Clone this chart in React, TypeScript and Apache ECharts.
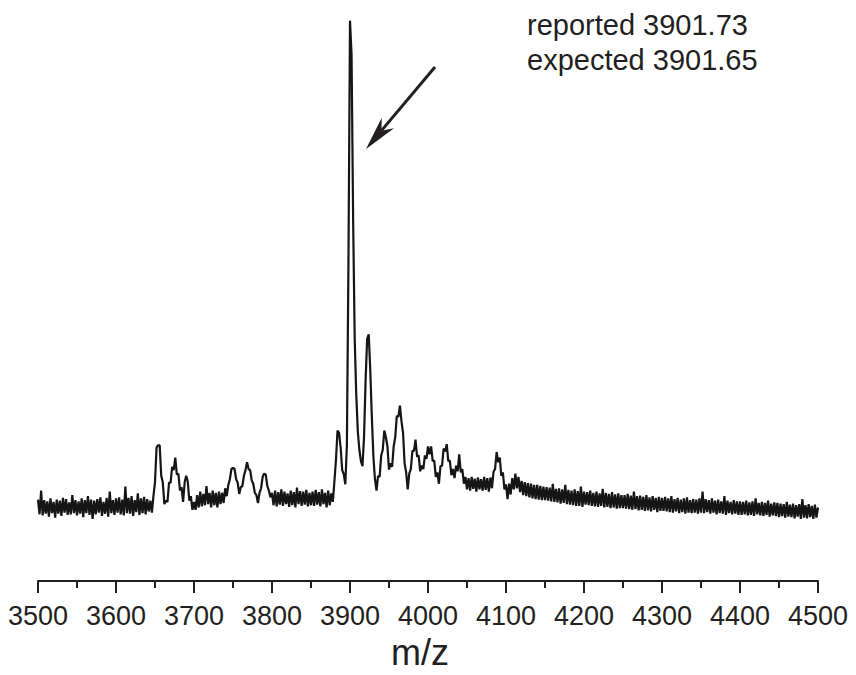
import React, { useEffect, useRef } from "react";
import * as echarts from "echarts";

// m/z grid of the spectrum (start and step) and the intensities (arbitrary units)
const MZ_START = 3500;
const MZ_STEP = 2;

const intensity: number[] = [
  // 3500-3548
  144, 118, 160, 116, 143, 119, 141, 114, 146, 120, 140, 112, 144, 119, 142, 115, 147, 121, 145, 117, 139, 118, 152, 120, 143,
  // 3550-3598
  116, 141, 119, 146, 113, 143, 120, 150, 117, 144, 110, 142, 118, 145, 121, 148, 115, 140, 119, 147, 114, 158, 120, 143, 117,
  // 3600-3648
  146, 121, 148, 118, 144, 116, 167, 120, 147, 119, 150, 115, 143, 122, 155, 117, 146, 120, 149, 118, 145, 123, 142, 121, 150,
  // 3650-3698
  175, 236, 240, 240, 186, 174, 136, 142, 140, 174, 174, 202, 196, 218, 188, 190, 160, 166, 140, 174, 186, 176, 142, 150, 126,
  // 3700-3748
  140, 126, 152, 130, 158, 132, 154, 134, 168, 136, 156, 130, 160, 134, 156, 130, 158, 136, 156, 138, 164, 150, 170, 180, 198,
  // 3750-3798
  200, 198, 180, 174, 154, 166, 168, 186, 196, 210, 198, 196, 178, 172, 156, 152, 138, 156, 164, 184, 190, 188, 168, 160, 148,
  // 3800-3848
  156, 134, 160, 132, 157, 135, 162, 133, 158, 136, 155, 131, 160, 134, 157, 130, 165, 136, 159, 133, 158, 135, 161, 132, 156,
  // 3850-3898
  134, 158, 133, 161, 135, 157, 132, 162, 136, 156, 130, 160, 134, 155, 140, 176, 214, 266, 262, 236, 196, 189, 171, 240, 560,
  // 3900-3948
  990, 930, 640, 430, 330, 265, 232, 212, 203, 255, 355, 428, 436, 372, 290, 220, 180, 160, 186, 184, 222, 232, 266, 254, 238,
  // 3950-3998
  197, 208, 202, 238, 254, 292, 290, 310, 282, 262, 208, 192, 162, 190, 198, 230, 230, 250, 220, 222, 194, 204, 198, 222, 216,
  // 4000-4048
  238, 224, 238, 212, 213, 184, 192, 172, 203, 204, 234, 229, 242, 212, 213, 187, 198, 182, 204, 194, 224, 192, 198, 172, 184,
  // 4050-4098
  162, 182, 160, 184, 163, 181, 158, 183, 162, 180, 160, 184, 161, 182, 158, 183, 164, 193, 198, 228, 210, 218, 186, 192, 162,
  // 4100-4148
  171, 145, 172, 153, 182, 162, 190, 164, 184, 157, 177, 152, 175, 150, 173, 148, 172, 146, 170, 145, 170, 144, 168, 143, 167,
  // 4150-4198
  143, 166, 142, 165, 141, 172, 140, 163, 139, 164, 137, 162, 138, 170, 136, 161, 135, 160, 134, 162, 133, 159, 133, 167, 131,
  // 4200-4248
  158, 135, 157, 134, 160, 133, 156, 132, 158, 131, 155, 133, 163, 130, 156, 131, 154, 129, 157, 130, 153, 128, 155, 129, 152,
  // 4250-4298
  129, 152, 128, 154, 127, 151, 126, 158, 127, 150, 125, 151, 126, 149, 124, 152, 125, 148, 123, 150, 126, 147, 122, 149, 124,
  // 4300-4348
  147, 124, 149, 123, 146, 122, 150, 121, 145, 123, 147, 120, 144, 122, 146, 119, 148, 121, 143, 120, 145, 121, 144, 119, 146,
  // 4350-4398
  121, 158, 120, 145, 122, 143, 119, 146, 121, 142, 118, 144, 120, 141, 119, 150, 117, 142, 120, 140, 118, 143, 119, 141, 117,
  // 4400-4448
  141, 117, 140, 118, 142, 116, 139, 117, 141, 115, 146, 118, 138, 116, 140, 115, 138, 117, 142, 114, 137, 116, 139, 115, 138,
  // 4450-4498
  113, 137, 115, 136, 112, 140, 114, 135, 113, 137, 111, 134, 114, 136, 110, 145, 112, 134, 111, 136, 113, 133, 110, 135, 112,
  // 4500
  130,
];

const X_MIN = 3500;
const X_MAX = 4500;
const X_INTERVAL = 100;
const X_NAME = "m/z";
const annotationLines = ["reported 3901.73", "expected 3901.65"];

const INK = "#231f20";
const FONT = "'Liberation Sans', Arial, Helvetica, sans-serif";

export default function App() {
  const ref = useRef<HTMLDivElement>(null);

  useEffect(() => {
    if (!ref.current) return;
    const chart = echarts.init(ref.current, undefined, { renderer: "svg" });

    const data = intensity.map((v, i) => [MZ_START + i * MZ_STEP, v]);

    // arrow geometry (annotation)
    const tip = [366, 149];
    const tail = [435, 67];
    const dx = tip[0] - tail[0];
    const dy = tip[1] - tail[1];
    const len = Math.sqrt(dx * dx + dy * dy);
    const ux = dx / len;
    const uy = dy / len;
    const nx = -uy;
    const ny = ux;
    const headLen = 34;
    const notchLen = 24;
    const half = 8;
    const baseX = tip[0] - headLen * ux;
    const baseY = tip[1] - headLen * uy;
    const notch = [tip[0] - notchLen * ux, tip[1] - notchLen * uy];

    chart.setOption({
      animation: false,
      backgroundColor: "#ffffff",
      grid: { left: 38, right: 38, top: 15, bottom: 90, containLabel: false },
      xAxis: {
        type: "value",
        min: X_MIN,
        max: X_MAX,
        interval: X_INTERVAL,
        name: X_NAME,
        nameLocation: "middle",
        nameGap: 52,
        nameTextStyle: { fontSize: 36, color: INK, fontFamily: FONT, padding: [0, 16, 0, 0] },
        axisLine: { show: true, onZero: false, lineStyle: { color: INK, width: 2 } },
        axisTick: { show: true, inside: false, length: 12, lineStyle: { color: INK, width: 2 } },
        minorTick: { show: true, splitNumber: 2, length: 7, lineStyle: { color: INK, width: 2 } },
        axisLabel: {
          fontSize: 27,
          color: INK,
          fontFamily: FONT,
          margin: 21,
          formatter: (v: number) => String(v),
        },
        splitLine: { show: false },
      },
      yAxis: {
        type: "value",
        min: 0,
        max: 1000,
        show: false,
        splitLine: { show: false },
      },
      series: [
        {
          type: "line",
          data,
          showSymbol: false,
          symbol: "none",
          silent: true,
          lineStyle: { color: "#151515", width: 2.2 },
        },
      ],
      graphic: [
        {
          type: "text",
          left: 527,
          top: 10,
          style: { text: annotationLines[0], fontSize: 29, fill: INK, fontFamily: FONT },
        },
        {
          type: "text",
          left: 527,
          top: 45,
          style: { text: annotationLines[1], fontSize: 29, fill: INK, fontFamily: FONT },
        },
        {
          type: "line",
          shape: { x1: tail[0], y1: tail[1], x2: notch[0], y2: notch[1] },
          style: { stroke: INK, lineWidth: 3 },
        },
        {
          type: "polygon",
          shape: {
            points: [
              tip,
              [baseX + half * nx, baseY + half * ny],
              notch,
              [baseX - half * nx, baseY - half * ny],
            ],
          },
          style: { fill: INK },
        },
      ],
    });

    return () => chart.dispose();
  }, []);

  return (
    <div
      ref={ref}
      style={{ position: "fixed", left: 0, top: 0, width: 856, height: 675, background: "#fff" }}
    />
  );
}
